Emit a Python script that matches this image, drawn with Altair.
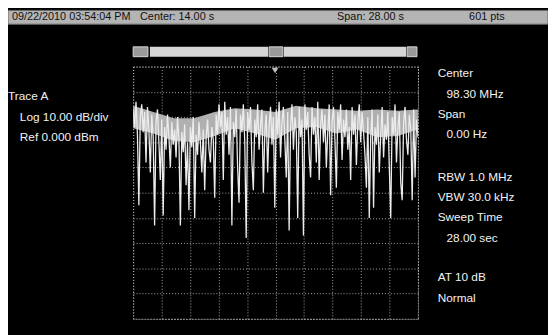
import altair as alt
import pandas as pd

# Trace A amplitude (dBm), read division by division across the 28 s sweep
trace_dbm = [
    -17, -24, -14, -27, -55, -20, -15, -26, -18, -38, -16, -25, -42, -19, -28, -63, -22, -17, -30, -45,
    -21, -59, -24, -33, -19, -28, -40, -22, -31, -25, -36, -20, -29, -63, -26, -34, -23, -47, -30, -57,
    -24, -32, -20, -60, -27, -35, -22, -30, -42, -25, -49, -28, -21, -33, -38, -24, -29, -52, -19, -27,
    -15, -24, -18, -45, -14, -27, -20, -35, -16, -63, -22, -28, -17, -40, -54, -19, -26, -15, -30, -68,
    -18, -25, -16, -38, -49, -21, -28, -15, -33, -23, -17, -50, -26, -19, -42, -24, -16, -31, -20, -56,
    -17, -27, -14, -36, -22, -16, -29, -44, -18, -65, -24, -15, -33, -20, -26, -60, -16, -28, -21, -67,
    -15, -25, -18, -35, -44, -16, -27, -20, -38, -14, -45, -23, -17, -30, -19, -40, -26, -15, -51, -22,
    -16, -29, -48, -18, -25, -15, -37, -21, -28, -17, -33, -24, -45, -16, -27, -19, -39, -22, -15, -30,
    -18, -26, -35, -48, -20, -60, -28, -17, -56, -24, -31, -19, -42, -27, -16, -36, -23, -29, -18, -40,
    -60, -20, -27, -15, -38, -24, -18, -46, -53, -22, -16, -29, -35, -19, -25, -53, -17, -44, -21, -28,
]
# dense noise band envelope (dBm), read every 2 s
band_t = [0, 2, 4, 6, 8, 10, 12, 14, 16, 18, 20, 22, 24, 26, 28]
band_top = [-15.5, -18.0, -20.5, -20.5, -18.0, -16.5, -17.0, -18.0, -15.5, -16.5, -17.0, -17.5, -17.0, -17.5, -17.0]
band_bottom = [-24.5, -26.5, -29.5, -30.0, -27.5, -24.5, -26.5, -29.0, -24.5, -24.0, -26.5, -25.0, -28.0, -27.5, -25.0]

sweep_time_s = 28.0
x_grid = [0, 2.8, 5.6, 8.4, 11.2, 14.0, 16.8, 19.6, 22.4, 25.2, 28.0]
y_grid = [0, -10, -20, -30, -40, -50, -60, -70, -80, -90, -100]

header_left = "09/22/2010 03:54:04 PM"
header_center = "Center: 14.00 s"
header_span = "Span: 28.00 s"
header_pts = "601 pts"
left_labels = ["Trace A", "Log 10.00 dB/div", "Ref 0.000 dBm"]
right_labels = ["Center", "98.30 MHz", "Span", "0.00 Hz", "RBW 1.0 MHz",
                "VBW 30.0 kHz", "Sweep Time", "28.00 sec", "AT 10 dB", "Normal"]

n = len(trace_dbm)
df = pd.DataFrame({
    "t": [i * sweep_time_s / (n - 1) for i in range(n)],
    "dbm": trace_dbm,
})
band_df = pd.DataFrame({"t": band_t, "top": band_top, "bottom": band_bottom})

FONT = "Liberation Sans"
one = alt.Data(values=[{"a": 1}])


def rect(x1, x2, y1, y2, fill, stroke=None):
    kw = dict(fill=fill)
    if stroke:
        kw.update(stroke=stroke, strokeWidth=1)
    return alt.Chart(one).mark_rect(**kw).encode(
        x=alt.value(x1), x2=alt.value(x2), y=alt.value(y1), y2=alt.value(y2))


def label(txt, x, y, color="#f2f2f2", size=12, align="left"):
    return alt.Chart(one).mark_text(
        font=FONT, fontSize=size, color=color, align=align, baseline="middle"
    ).encode(x=alt.value(x), y=alt.value(y), text=alt.value(txt))


xscale = alt.Scale(domain=[0, 28], nice=False, zero=False)
yscale = alt.Scale(domain=[-100, 0], nice=False)
xaxis = alt.Axis(values=x_grid, labels=False, ticks=False, domain=False, title=None, grid=True)
yaxis = alt.Axis(values=y_grid, labels=False, ticks=False, domain=False, title=None, grid=True)

band = alt.Chart(band_df).mark_area(color="#b0b0b0", opacity=1).encode(
    x=alt.X("t:Q", scale=xscale, axis=xaxis),
    y=alt.Y("top:Q", scale=yscale, axis=yaxis),
    y2="bottom:Q",
)

trace = alt.Chart(df).mark_line(color="#ececec", strokeWidth=1.3, clip=True).encode(
    x=alt.X("t:Q", scale=xscale, axis=xaxis),
    y=alt.Y("dbm:Q", scale=yscale, axis=yaxis),
)

layers = [band, trace]

# header bar
layers.append(rect(-127, 421, -57, -43, "#b4b4b4", "#6a6a6a"))
layers.append(label(header_left, -123, -50, color="#111111", size=11))
layers.append(label(header_center, 7, -50, color="#111111", size=11))
layers.append(label(header_span, 207, -50, color="#111111", size=11))
layers.append(label(header_pts, 377, -50, color="#111111", size=11, align="right"))

# scroll bar
layers.append(rect(0, 15, -20, -10, "#9a9a9a", "#d8d8d8"))
layers.append(rect(17, 137, -20, -10, "#d6d6d6"))
layers.append(rect(138, 152, -20, -10, "#9a9a9a", "#d8d8d8"))
layers.append(rect(153, 277, -20, -10, "#d6d6d6"))
layers.append(rect(278, 288, -20, -10, "#9a9a9a", "#d8d8d8"))

# marker triangle
layers.append(alt.Chart(one).mark_point(shape="triangle-down", filled=True,
                                        color="#bbbbbb", size=45, opacity=1).encode(
    x=alt.value(144), y=alt.value(4)))

# left labels
layers.append(label(left_labels[0], -127, 30))
layers.append(label(left_labels[1], -115, 51))
layers.append(label(left_labels[2], -115, 72))

# right labels
right_pos = [(309, 7), (318, 28), (309, 48), (318, 69), (309, 112),
             (309, 132), (309, 153), (318, 174), (309, 214), (309, 235)]
for txt, (x, y) in zip(right_labels, right_pos):
    layers.append(label(txt, x, y))

chart = alt.layer(*layers).properties(
    width=289, height=256,
    padding={"left": 127, "top": 57, "right": 132, "bottom": 14},
    autosize=alt.AutoSizeParams(type="none"),
    background="#000000",
).configure_view(
    fill="#000000", stroke="#c8c8c8", strokeDash=[1, 2], strokeWidth=1,
).configure_axis(
    gridColor="#a8a8a8", gridDash=[1, 2], gridOpacity=1, gridWidth=1,
)

chart.save("out.html", embed_options={"renderer": "svg", "actions": False})
